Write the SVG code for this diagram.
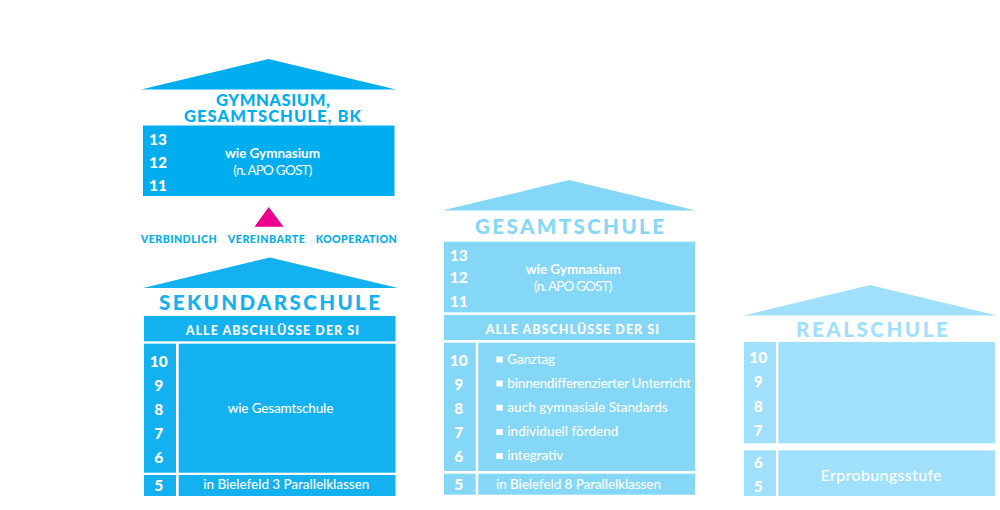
<svg xmlns="http://www.w3.org/2000/svg" width="1000" height="510" viewBox="0 0 1000 510">
<style>
text{font-family:Lato,"Noto Sans",sans-serif;}
.w{fill:#fff}
.n{fill:#fff;font-weight:900;font-size:15.500px;text-anchor:middle}
.t{fill:#fff;font-weight:700;font-size:13.500px}
.r{fill:#fff;font-weight:500;font-size:13.500px}
.l{fill:#fff;font-weight:400;font-size:13.500px}
.b{fill:#fff;font-weight:900;font-size:12.500px}
.s{font-weight:900;font-size:10.700px}
.g{font-weight:900;font-size:16.500px}
.h{font-weight:900;font-size:20.500px}
.c1{fill:#00aeef}.c2{fill:#13b1f0}.c3{fill:#85d7f8}.c4{fill:#a0e0fb}
</style>
<g id="gymnasium">
<polygon class="c1" points="141,89.500 268.500,59 396,89.500"/>
<text class="g c1" x="216" y="105.500" textLength="114">GYMNASIUM,</text>
<text class="g c1" x="184" y="122" textLength="177">GESAMTSCHULE, BK</text>
<rect class="c1" x="143" y="125.500" width="251.500" height="70.500"/>
<text class="n" x="158" y="145">13</text><text class="n" x="158" y="167.500">12</text><text class="n" x="158" y="190.500">11</text>
<text class="t" x="225" y="158" textLength="95">wie Gymnasium</text>
<text class="l" x="233.300" y="174.500" textLength="79">(n. APO GOST)</text>
</g>
<g id="kooperation">
<polygon fill="#ec008c" points="268.700,207 254.500,226.700 283.500,226.700"/>
<text class="s c1" x="140.700" y="243.300" textLength="76">VERBINDLICH</text>
<text class="s c1" x="227.700" y="243.300" textLength="77.300">VEREINBARTE</text>
<text class="s c1" x="315.700" y="243.300" textLength="81">KOOPERATION</text>
</g>
<g id="sekundarschule">
<polygon class="c2" points="143,288 270,257.500 398,288"/>
<text class="h c2" x="159" y="309.500" textLength="221">SEKUNDARSCHULE</text>
<rect class="c2" x="144" y="316" width="251.500" height="25.300"/>
<text class="b" x="185.700" y="335" textLength="173.300">ALLE ABSCHLÜSSE DER SI</text>
<rect class="c2" x="144" y="343.700" width="32" height="129"/>
<rect class="c2" x="178.700" y="343.700" width="216.800" height="129"/>
<rect class="c2" x="144" y="475" width="32" height="21"/>
<rect class="c2" x="178.700" y="475" width="216.800" height="21"/>
<text class="n" x="158.700" y="366.700">10</text><text class="n" x="158.700" y="390.700">9</text><text class="n" x="158.700" y="414.700">8</text><text class="n" x="158.700" y="438.700">7</text><text class="n" x="158.700" y="463">6</text><text class="n" x="158.700" y="490.700">5</text>
<text class="r" x="227.700" y="413" textLength="105.600">wie Gesamtschule</text>
<text class="r" x="203.300" y="489" textLength="166">in Bielefeld 3 Parallelklassen</text>
</g>
<g id="gesamtschule">
<polygon class="c3" points="442,210.500 569,180 696,210.500"/>
<text class="h c3" x="475" y="234.300" textLength="189">GESAMTSCHULE</text>
<rect class="c3" x="444" y="241.700" width="251" height="70.600"/>
<text class="n" x="458.700" y="261">13</text><text class="n" x="458.700" y="283.300">12</text><text class="n" x="458.700" y="306.700">11</text>
<text class="t" x="525.700" y="274.300" textLength="95">wie Gymnasium</text>
<text class="l" x="534" y="291" textLength="78.300">(n. APO GOST)</text>
<rect class="c3" x="444" y="315" width="251" height="25"/>
<text class="b" x="485.700" y="334" textLength="173.300">ALLE ABSCHLÜSSE DER SI</text>
<rect class="c3" x="444" y="342.700" width="31.700" height="128.300"/>
<rect class="c3" x="478.300" y="342.700" width="216.700" height="128.300"/>
<rect class="c3" x="444" y="473.700" width="31.700" height="21"/>
<rect class="c3" x="478.300" y="473.700" width="216.700" height="21"/>
<text class="n" x="458.700" y="365.500">10</text><text class="n" x="458.700" y="389.500">9</text><text class="n" x="458.700" y="413.700">8</text><text class="n" x="458.700" y="438">7</text><text class="n" x="458.700" y="462">6</text><text class="n" x="458.700" y="490">5</text>
<g class="w"><rect x="496.300" y="356.500" width="6.500" height="6"/><rect x="496.300" y="380.500" width="6.500" height="6"/><rect x="496.300" y="404.700" width="6.500" height="6"/><rect x="496.300" y="429" width="6.500" height="6"/><rect x="496.300" y="453" width="6.500" height="6"/></g>
<text class="r" x="507.300" y="364" textLength="47.700">Ganztag</text>
<text class="r" x="507.300" y="388" textLength="183.700">binnendifferenzierter Unterricht</text>
<text class="r" x="507.300" y="412" textLength="160.400">auch gymnasiale Standards</text>
<text class="r" x="507.300" y="436" textLength="111">individuell fördend</text>
<text class="r" x="507.300" y="460" textLength="56">integrativ</text>
<text class="r" x="496" y="488.500" textLength="165">in Bielefeld 8 Parallelklassen</text>
</g>
<g id="realschule">
<polygon class="c4" points="743,315.500 870,285 997,315.500"/>
<text class="h c4" x="796" y="336.700" textLength="151.700">REALSCHULE</text>
<rect class="c4" x="744" y="342" width="32" height="101.300"/>
<rect class="c4" x="778.300" y="342" width="216.700" height="101.300"/>
<rect class="c4" x="744" y="450.300" width="32" height="45.700"/>
<rect class="c4" x="778.300" y="450.300" width="216.700" height="45.700"/>
<text class="n" x="758.300" y="363.300">10</text><text class="n" x="758.300" y="387.300">9</text><text class="n" x="758.300" y="412">8</text><text class="n" x="758.300" y="436">7</text><text class="n" x="758.300" y="468.300">6</text><text class="n" x="758.300" y="491.700">5</text>
<text class="r" style="font-size:16px" x="820.700" y="481" textLength="121">Erprobungsstufe</text>
</g>
</svg>
